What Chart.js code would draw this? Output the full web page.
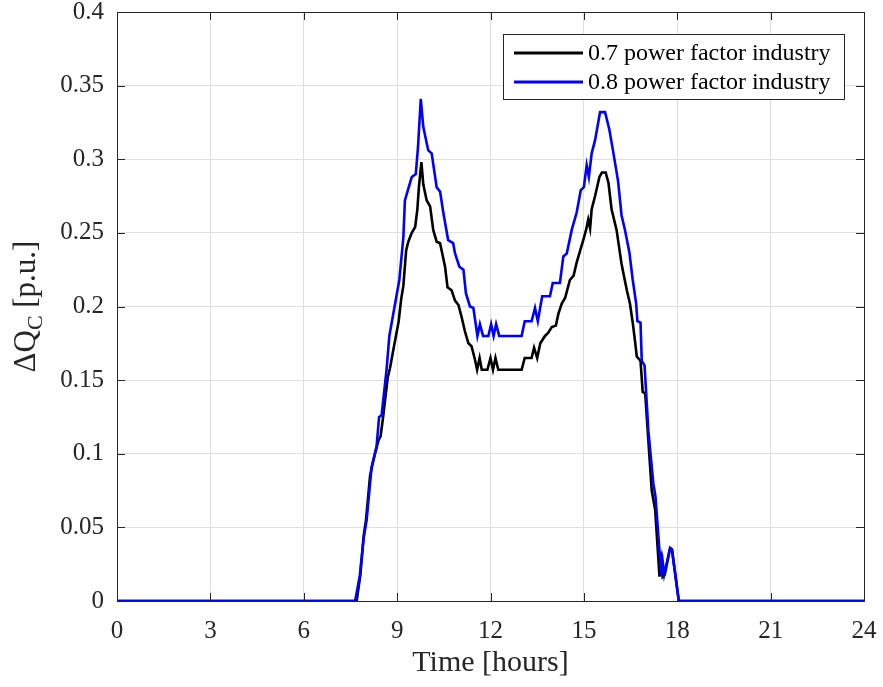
<!DOCTYPE html>
<html>
<head>
<meta charset="utf-8">
<script src="https://cdn.jsdelivr.net/npm/chart.js@4/dist/chart.umd.min.js"></script>
<style>
  html, body { margin: 0; padding: 0; background: #ffffff; }
  #wrap { width: 883px; height: 687px; position: relative; }
</style>
</head>
<body>
<div id="wrap"><canvas id="c" width="883" height="687"></canvas></div>
<script>
// ---- data ----
const seriesLabels = ['0.7 power factor industry', '0.8 power factor industry'];
const hours07 = [0, 7.7, 7.82, 7.93, 8.0, 8.13, 8.2, 8.29, 8.4, 8.47, 8.55, 8.7, 8.77, 8.9, 9.05, 9.13, 9.2, 9.29, 9.36, 9.47, 9.58, 9.65, 9.7, 9.78, 9.84, 9.95, 10.06, 10.16, 10.27, 10.38, 10.54, 10.62, 10.75, 10.86, 10.97, 11.07, 11.18, 11.29, 11.39, 11.5, 11.57, 11.65, 11.72, 11.9, 12.0, 12.08, 12.16, 12.25, 13.0, 13.1, 13.32, 13.4, 13.5, 13.6, 13.75, 13.85, 13.97, 14.1, 14.18, 14.29, 14.4, 14.55, 14.67, 14.77, 14.88, 14.98, 15.07, 15.14, 15.2, 15.25, 15.36, 15.5, 15.58, 15.7, 15.79, 15.89, 16.05, 16.21, 16.27, 16.38, 16.48, 16.57, 16.64, 16.7, 16.82, 16.89, 16.97, 17.18, 17.29, 17.43, 17.49, 17.53, 17.6, 17.77, 17.83, 18.05, 24];
const dq07 = [0, 0, 0.018, 0.045, 0.055, 0.085, 0.092, 0.1, 0.109, 0.112, 0.125, 0.152, 0.158, 0.173, 0.19, 0.205, 0.214, 0.238, 0.244, 0.25, 0.254, 0.266, 0.281, 0.298, 0.283, 0.272, 0.268, 0.252, 0.244, 0.243, 0.227, 0.213, 0.211, 0.204, 0.201, 0.193, 0.183, 0.175, 0.173, 0.164, 0.157, 0.165, 0.157, 0.157, 0.165, 0.157, 0.165, 0.157, 0.157, 0.165, 0.165, 0.172, 0.165, 0.175, 0.18, 0.182, 0.186, 0.187, 0.195, 0.202, 0.206, 0.218, 0.221, 0.23, 0.238, 0.245, 0.252, 0.259, 0.253, 0.266, 0.275, 0.288, 0.291, 0.291, 0.284, 0.266, 0.252, 0.229, 0.2225, 0.211, 0.202, 0.189, 0.177, 0.166, 0.163, 0.142, 0.141, 0.075, 0.062, 0.0165, 0.027, 0.0165, 0.018, 0.036, 0.035, 0, 0];
const hours08 = [0, 7.65, 7.8, 7.92, 8.02, 8.18, 8.34, 8.42, 8.5, 8.66, 8.75, 9.07, 9.2, 9.25, 9.36, 9.47, 9.6, 9.67, 9.76, 9.84, 10.0, 10.11, 10.27, 10.38, 10.49, 10.64, 10.8, 10.86, 11.0, 11.13, 11.21, 11.34, 11.45, 11.58, 11.66, 11.76, 11.93, 12.02, 12.1, 12.18, 12.28, 13.0, 13.1, 13.32, 13.43, 13.52, 13.66, 13.91, 14.0, 14.23, 14.34, 14.45, 14.61, 14.77, 14.9, 15.0, 15.09, 15.16, 15.25, 15.36, 15.52, 15.68, 15.82, 15.95, 16.1, 16.21, 16.32, 16.46, 16.57, 16.68, 16.72, 16.82, 16.86, 16.95, 17.07, 17.23, 17.3, 17.45, 17.48, 17.53, 17.58, 17.77, 17.83, 18.05, 24];
const dq08 = [0, 0, 0.017, 0.042, 0.055, 0.091, 0.105, 0.125, 0.126, 0.157, 0.18, 0.218, 0.247, 0.272, 0.28, 0.288, 0.29, 0.308, 0.341, 0.322, 0.306, 0.304, 0.281, 0.278, 0.263, 0.245, 0.243, 0.236, 0.227, 0.225, 0.209, 0.2, 0.199, 0.18, 0.188, 0.18, 0.18, 0.188, 0.18, 0.188, 0.18, 0.18, 0.19, 0.19, 0.199, 0.19, 0.207, 0.207, 0.216, 0.216, 0.234, 0.236, 0.252, 0.264, 0.279, 0.281, 0.296, 0.288, 0.304, 0.313, 0.332, 0.332, 0.32, 0.304, 0.285, 0.262, 0.252, 0.237, 0.218, 0.202, 0.19, 0.189, 0.163, 0.16, 0.116, 0.08, 0.071, 0.028, 0.018, 0.027, 0.018, 0.036, 0.035, 0, 0];
const xTickStep = 3;
const yTickStep = 0.05;
const xTitle = 'Time [hours]';
const yTitleMain = 'ΔQ';
const yTitleSub = 'C';
const yTitleTail = ' [p.u.]';

// ---- styling ----
const FONT = "'Liberation Serif', 'Times New Roman', serif";
const AXIS_COLOR = '#262626';
const GRID_COLOR = '#dfdfdf';

function pts(xs, ys) { return xs.map((x, i) => ({ x: x, y: ys[i] })); }

const frameAndLabels = {
  id: 'frameAndLabels',
  afterDraw(chart) {
    const ctx = chart.ctx;
    const a = chart.chartArea;
    const xs = chart.scales.x, ys = chart.scales.y;
    ctx.save();
    // inward tick marks
    ctx.strokeStyle = AXIS_COLOR;
    ctx.lineWidth = 1;
    const tl = 8;
    ctx.beginPath();
    xs.ticks.forEach(t => {
      const px = Math.round(xs.getPixelForValue(t.value)) + 0.5;
      ctx.moveTo(px, a.bottom); ctx.lineTo(px, a.bottom - tl);
      ctx.moveTo(px, a.top); ctx.lineTo(px, a.top + tl);
    });
    ys.ticks.forEach(t => {
      const py = Math.round(ys.getPixelForValue(t.value)) + 0.5;
      ctx.moveTo(a.left, py); ctx.lineTo(a.left + tl, py);
      ctx.moveTo(a.right, py); ctx.lineTo(a.right - tl, py);
    });
    ctx.stroke();
    // frame
    ctx.strokeRect(Math.round(a.left) + 0.5, Math.round(a.top) + 0.5, Math.round(a.right - a.left), Math.round(a.bottom - a.top));

    // y title with subscript
    ctx.fillStyle = AXIS_COLOR;
    ctx.translate(27, (a.top + a.bottom) / 2);
    ctx.rotate(-Math.PI / 2);
    const big = "31px " + FONT, small = "22px " + FONT;
    ctx.font = big; const w1 = ctx.measureText(yTitleMain).width;
    const w3 = ctx.measureText(yTitleTail).width;
    ctx.font = small; const w2 = ctx.measureText(yTitleSub).width;
    let x0 = -(w1 + w2 + w3) / 2;
    ctx.textBaseline = 'middle';
    ctx.textAlign = 'left';
    ctx.font = big; ctx.fillText(yTitleMain, x0, 0);
    ctx.font = small; ctx.fillText(yTitleSub, x0 + w1, 9);
    ctx.font = big; ctx.fillText(yTitleTail, x0 + w1 + w2, 0);
    ctx.restore();

    // legend box
    ctx.save();
    const bx = 503, by = 34, bw = 341, bh = 65;
    ctx.fillStyle = '#ffffff';
    ctx.fillRect(bx, by, bw, bh);
    ctx.strokeStyle = AXIS_COLOR;
    ctx.lineWidth = 1;
    ctx.strokeRect(bx + 0.5, by + 0.5, bw, bh);
    ctx.font = "24px " + FONT;
    ctx.textBaseline = 'middle';
    ctx.textAlign = 'left';
    const rows = [53, 82];
    chart.data.datasets.forEach((ds, i) => {
      const yy = rows[i];
      ctx.strokeStyle = ds.borderColor;
      ctx.lineWidth = 3;
      ctx.beginPath(); ctx.moveTo(514, yy); ctx.lineTo(583, yy); ctx.stroke();
      ctx.fillStyle = '#000000';
      ctx.fillText(ds.label, 588, yy + 1);
    });
    ctx.restore();
  }
};

new Chart(document.getElementById('c'), {
  type: 'line',
  data: {
    datasets: [
      { label: seriesLabels[0], data: pts(hours07, dq07), borderColor: '#000000', borderWidth: 2.6, pointRadius: 0, fill: false, tension: 0, order: 1 },
      { label: seriesLabels[1], data: pts(hours08, dq08), borderColor: '#0000ff', borderWidth: 2.6, pointRadius: 0, fill: false, tension: 0, order: 0 }
    ]
  },
  options: {
    responsive: false,
    animation: false,
    events: [],
    layout: { padding: { left: 0, top: 12, right: 19, bottom: 0 } },
    plugins: { legend: { display: false }, tooltip: { enabled: false } },
    scales: {
      x: {
        type: 'linear', min: 0, max: 24,
        ticks: { stepSize: xTickStep, color: AXIS_COLOR, font: { family: FONT, size: 25 }, padding: 15, maxRotation: 0 },
        grid: { color: GRID_COLOR, drawTicks: false, lineWidth: 1 },
        border: { display: false },
        title: { display: true, text: xTitle, color: AXIS_COLOR, font: { family: FONT, size: 30 }, padding: { top: 2, bottom: 6 } },
        afterFit(s) { s.height = 86; s.paddingLeft = 0; s.paddingRight = 0; }
      },
      y: {
        type: 'linear', min: 0, max: 0.4,
        ticks: { stepSize: yTickStep, color: AXIS_COLOR, font: { family: FONT, size: 25 }, padding: 13,
                 callback: v => String(Number(v.toFixed(2))) },
        grid: { color: GRID_COLOR, drawTicks: false, lineWidth: 1 },
        border: { display: false },
        afterFit(s) { s.width = 117; s.paddingTop = 0; s.paddingBottom = 0; }
      }
    }
  },
  plugins: [frameAndLabels]
});
</script>
</body>
</html>
